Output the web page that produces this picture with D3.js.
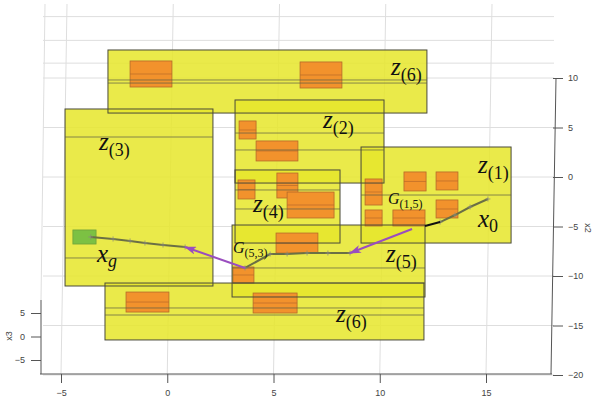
<!DOCTYPE html>
<html>
<head>
<meta charset="utf-8">
<script src="https://cdn.jsdelivr.net/npm/d3@7"></script>
<style>
  html, body { margin: 0; padding: 0; background: #fff; }
  svg { display: block; }
  .tick text { fill: #444; font-family: "Liberation Sans", Arial, sans-serif; font-size: 9px; }
  .tick line, .domain { stroke: #555; }
</style>
</head>
<body>
<svg id="chart" width="593" height="403"></svg>
<script>
// Axis ticks
const x1Ticks = [-5, 0, 5, 10, 15];
const x2Ticks = [10, 5, 0, -5, -10, -15, -20];
const x3Ticks = [5, 0, -5];
// extra back-wall grid levels (in x2 units, above the axis range)
const backGrid = [16.2, 13.8, 11.5];

// Planes z(i): extent in x1 / x2, inner edge levels, label anchor
const planeNames = ["6", "3", "2", "4", "1", "5", "6"];
const planeX = [[-2.79, 12.22], [-4.81, 2.15], [3.19, 10.2], [3.19, 8.13], [9.12, 16.18], [3.05, 12.13], [-2.93, 12.08]];
const planeY = [[12.83, 6.46], [6.87, -11.01], [7.78, -0.61], [0.71, -6.67], [3.03, -6.67], [-4.85, -12.12], [-10.71, -16.46]];
const planeEdges = [[9.8, 9.49], [4.04, -8.18], [4.44, 2.73], [-1.31, -3.23], [-1.82], [-9.19, -10.71], [-13.23, -13.94]];
const planeLabelAt = [[10.53, 10.3], [-3.21, 2.73], [7.33, 4.95], [4.04, -3.54], [14.62, 0.4], [10.29, -8.59], [7.94, -14.65]];

// Obstacle boxes [x1min, x1max, x2max, x2min]
const boxes = [
  [-1.75, 0.22, 11.72, 9.09], [6.25, 8.22, 11.62, 8.99],
  [3.38, 4.18, 5.66, 3.84], [4.18, 6.15, 3.64, 1.62],
  [3.33, 4.13, -0.3, -2.22], [5.16, 6.15, 0.4, -2.12], [5.64, 7.85, -1.52, -4.14],
  [11.14, 12.18, 0.51, -1.41], [12.65, 13.68, 0.51, -1.31], [12.65, 13.68, -2.32, -4.14],
  [9.31, 10.11, -0.2, -2.83], [9.31, 10.11, -3.33, -4.95], [10.62, 12.13, -3.33, -4.95],
  [5.12, 7.09, -5.66, -7.68], [3.09, 4.08, -9.09, -10.71],
  [-1.94, 0.08, -11.62, -13.64], [4.04, 6.11, -11.72, -13.74]
];
// Goal region
const goalBox = [-4.44, -3.35, -5.35, -6.77];

// Trajectory pieces
const trajStart = [[15.09, -2.22], [14.25, -3.03], [13.54, -3.84], [12.84, -4.55]];
const trajStartTail = [[12.84, -4.55], [12.13, -4.95]];
const trajMid = [[8.6, -7.68], [7.56, -7.68], [6.58, -7.68], [5.64, -7.78], [4.84, -7.78], [3.66, -9.19]];
const trajEnd = [[0.84, -7.07], [-0.2, -6.87], [-1.05, -6.67], [-1.75, -6.46], [-2.55, -6.26], [-3.6, -6.06]];
// Transitions G(1,5) and G(5,3)
const jumps = [[[11.52, -5.25], [8.6, -7.68]], [[3.66, -9.19], [0.84, -7.07]]];
const jumpLabels = [{ sub: "(1,5)", at: [10.39, -2.73] }, { sub: "(5,3)", at: [3.09, -7.68] }];
const pointLabels = [{ base: "x", sub: "0", at: [14.62, -5.05] }, { base: "x", sub: "g", at: [-3.31, -8.59] }];

const svg = d3.select("#chart");
const x = d3.scaleLinear().domain([-5, 15]).range([61, 486]);
const y = d3.scaleLinear().domain([-20, 10]).range([375, 78]);
const z = d3.scaleLinear().domain([-5, 5]).range([360, 313]);
const topY = 4, leftX = 43, rightX = 554, baseY = 374;

// Grid
const grid = svg.append("g").attr("stroke", "#dedede").attr("stroke-width", 1);
x1Ticks.forEach(v => grid.append("line")
  .attr("x1", x(v)).attr("y1", baseY).attr("x2", x(v) + 6).attr("y2", topY));
x2Ticks.concat(backGrid).forEach(v => grid.append("line")
  .attr("x1", leftX).attr("y1", y(v)).attr("x2", rightX).attr("y2", y(v)));
grid.append("line").attr("x1", 45).attr("y1", topY).attr("x2", 41).attr("y2", 300);

// Plane fills
const planeG = svg.append("g");
planeNames.forEach((n, i) => {
  planeG.append("rect")
    .attr("x", x(planeX[i][0])).attr("y", y(planeY[i][0]))
    .attr("width", x(planeX[i][1]) - x(planeX[i][0]))
    .attr("height", y(planeY[i][1]) - y(planeY[i][0]))
    .attr("fill", "#e6e62c").attr("fill-opacity", 0.86);
});

// Obstacles
const boxG = svg.append("g");
boxes.forEach(b => {
  boxG.append("rect")
    .attr("x", x(b[0])).attr("y", y(b[2]))
    .attr("width", x(b[1]) - x(b[0])).attr("height", y(b[3]) - y(b[2]))
    .attr("fill", "#f2922c").attr("stroke", "#b56a2a").attr("stroke-width", 0.8);
  boxG.append("line")
    .attr("x1", x(b[0])).attr("x2", x(b[1]))
    .attr("y1", y((b[2] + b[3]) / 2)).attr("y2", y((b[2] + b[3]) / 2))
    .attr("stroke", "#b96a2a").attr("stroke-width", 0.7);
});
boxG.append("rect")
  .attr("x", x(goalBox[0])).attr("y", y(goalBox[2]))
  .attr("width", x(goalBox[1]) - x(goalBox[0])).attr("height", y(goalBox[3]) - y(goalBox[2]))
  .attr("fill", "#7cc143").attr("stroke", "#6ea23a").attr("stroke-width", 0.8);

// Plane outlines and inner edges
const edgeG = svg.append("g").attr("fill", "none");
planeNames.forEach((n, i) => {
  edgeG.append("rect")
    .attr("x", x(planeX[i][0])).attr("y", y(planeY[i][0]))
    .attr("width", x(planeX[i][1]) - x(planeX[i][0]))
    .attr("height", y(planeY[i][1]) - y(planeY[i][0]))
    .attr("stroke", "#4a4a3a").attr("stroke-width", 1);
  planeEdges[i].forEach(e => edgeG.append("line")
    .attr("x1", x(planeX[i][0])).attr("x2", x(planeX[i][1]))
    .attr("y1", y(e)).attr("y2", y(e))
    .attr("stroke", "#5f5f45").attr("stroke-opacity", 0.8).attr("stroke-width", 0.9));
});

// Trajectory
const line = d3.line().x(d => x(d[0])).y(d => y(d[1]));
const trajG = svg.append("g").attr("fill", "none");
[trajStart, trajMid, trajEnd].forEach(seg => {
  trajG.append("path").attr("d", line(seg))
    .attr("stroke", "#6b6f45").attr("stroke-width", 2);
  seg.forEach(p => trajG.append("path")
    .attr("transform", `translate(${x(p[0])},${y(p[1])})`)
    .attr("d", "M-2.5,0H2.5M0,-2.5V2.5")
    .attr("stroke", "#8a8a7a").attr("stroke-width", 0.8));
});
trajG.append("path").attr("d", line(trajStartTail))
  .attr("stroke", "#111").attr("stroke-width", 2);

// Transition arrows
svg.append("defs").append("marker")
  .attr("id", "head").attr("viewBox", "0 0 12 8").attr("refX", 11).attr("refY", 4)
  .attr("markerWidth", 12).attr("markerHeight", 8).attr("markerUnits", "userSpaceOnUse")
  .attr("orient", "auto")
  .append("path").attr("d", "M0,0L12,4L0,8L3,4Z").attr("fill", "#9a4dbf");
jumps.forEach(j => svg.append("path").attr("d", line(j))
  .attr("stroke", "#9a4dbf").attr("stroke-width", 2).attr("fill", "none")
  .attr("marker-end", "url(#head)"));

// Labels
const serif = "'Liberation Serif', 'DejaVu Serif', serif";
const labelG = svg.append("g").attr("fill", "#111").attr("font-family", serif);
function mathLabel(base, sub, at, size, subSize, drop) {
  const t = labelG.append("text").attr("x", x(at[0])).attr("y", y(at[1]));
  t.append("tspan").attr("font-style", "italic").attr("font-size", size).text(base);
  t.append("tspan").attr("font-size", subSize).attr("dy", drop)
    .attr("font-style", sub === "g" ? "italic" : "normal").text(sub);
}
planeNames.forEach((n, i) => mathLabel("z", `(${n})`, planeLabelAt[i], 25, 18, 6));
pointLabels.forEach(p => mathLabel(p.base, p.sub, p.at, 25, 18, 5));
jumpLabels.forEach(p => mathLabel("G", p.sub, p.at, 16, 12, 4));

// Axes
const xAxis = svg.append("g").attr("transform", `translate(0,${baseY})`)
  .call(d3.axisBottom(x).tickValues(x1Ticks).tickSize(9).tickPadding(7).tickSizeOuter(0));
xAxis.select(".domain").remove();
svg.append("line").attr("x1", 40).attr("x2", rightX - 2).attr("y1", baseY).attr("y2", baseY)
  .attr("stroke", "#555");

const yAxis = svg.append("g").attr("transform", `translate(${rightX - 1},0)`)
  .call(d3.axisRight(y).tickValues(x2Ticks).tickSize(10).tickPadding(5).tickFormat(d3.format("d")));
yAxis.select(".domain").remove();
svg.append("line").attr("x1", rightX + 2).attr("x2", rightX - 3).attr("y1", y(10)).attr("y2", baseY)
  .attr("stroke", "#555");

const zAxis = svg.append("g").attr("transform", "translate(41,0)")
  .call(d3.axisLeft(z).tickValues(x3Ticks).tickSize(10).tickPadding(6));
zAxis.select(".domain").remove();
svg.append("line").attr("x1", 41).attr("x2", 41).attr("y1", 300).attr("y2", baseY).attr("stroke", "#555");

svg.append("text").attr("transform", "translate(12,336) rotate(-90)")
  .attr("text-anchor", "middle").attr("fill", "#444")
  .attr("font-family", "'Liberation Sans', Arial, sans-serif").attr("font-size", 9).text("x3");
svg.append("text").attr("transform", "translate(585,228) rotate(90)")
  .attr("text-anchor", "middle").attr("fill", "#444")
  .attr("font-family", "'Liberation Sans', Arial, sans-serif").attr("font-size", 9).text("x2");
</script>
</body>
</html>
